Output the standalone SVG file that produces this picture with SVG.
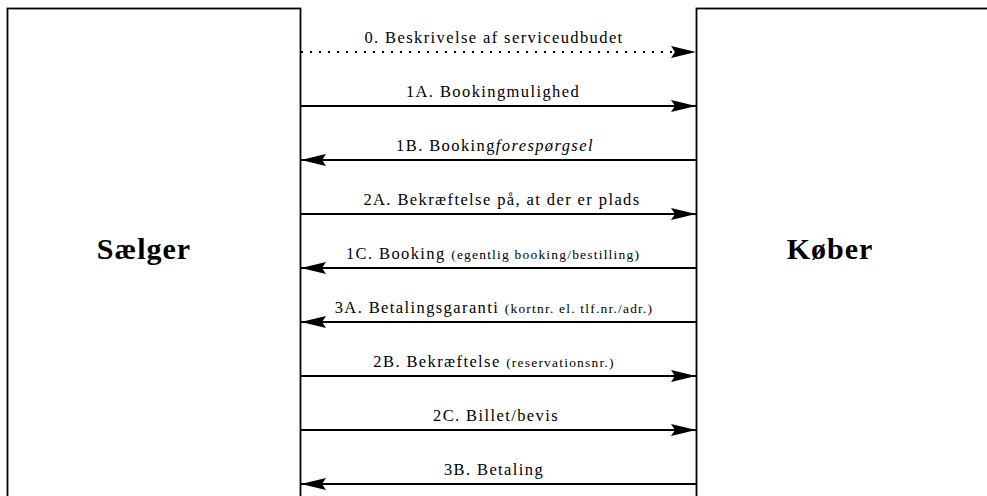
<svg xmlns="http://www.w3.org/2000/svg" width="987" height="496" viewBox="0 0 987 496">
  <style>
    .party { fill: #fff; stroke: #000; stroke-width: 1.8; }
    .name { font-family: "Liberation Serif", "Times New Roman", serif; font-weight: bold; font-size: 30px; letter-spacing: 1px; text-anchor: middle; fill: #000; }
    .msg { stroke: #000; stroke-width: 2; fill: none; }
    .dotted { stroke-dasharray: 2 7; }
    .lbl { font-family: "Liberation Serif", "Times New Roman", serif; font-size: 16.5px; letter-spacing: 1.4px; text-anchor: middle; fill: #000; }
    .small { font-size: 13.5px; letter-spacing: 1.2px; }
    .it { font-style: italic; }
  </style>
  <defs>
    <marker id="head" viewBox="0 0 25 12" refX="25" refY="6" markerWidth="25" markerHeight="12" markerUnits="userSpaceOnUse" orient="auto">
      <path d="M0,0 L25,6 L0,12 L4,6 Z" fill="#000"/>
    </marker>
  </defs>

  <rect fill="#fff" x="0" y="0" width="987" height="496"/>

  <g id="saelger">
    <rect class="party" x="7.5" y="8.5" width="293" height="600"/>
    <text class="name" x="144" y="259">Sælger</text>
  </g>

  <g id="koeber">
    <rect class="party" x="696.5" y="8.5" width="400" height="600"/>
    <text class="name" x="830" y="259">Køber</text>
  </g>

  <g id="connectors">
    <line class="msg dotted" x1="301" y1="52" x2="696" y2="52" marker-end="url(#head)"/>
    <line class="msg" x1="301" y1="106" x2="696" y2="106" marker-end="url(#head)"/>
    <line class="msg" x1="696" y1="160" x2="301" y2="160" marker-end="url(#head)"/>
    <line class="msg" x1="301" y1="214" x2="696" y2="214" marker-end="url(#head)"/>
    <line class="msg" x1="696" y1="268" x2="301" y2="268" marker-end="url(#head)"/>
    <line class="msg" x1="696" y1="322" x2="301" y2="322" marker-end="url(#head)"/>
    <line class="msg" x1="301" y1="376" x2="696" y2="376" marker-end="url(#head)"/>
    <line class="msg" x1="301" y1="430" x2="696" y2="430" marker-end="url(#head)"/>
    <line class="msg" x1="696" y1="484" x2="301" y2="484" marker-end="url(#head)"/>

    <text class="lbl" x="494" y="43">0. Beskrivelse af serviceudbudet</text>
    <text class="lbl" x="493" y="97">1A. Bookingmulighed</text>
    <text class="lbl" x="495" y="151">1B. Booking<tspan class="it">forespørgsel</tspan></text>
    <text class="lbl" x="502" y="205">2A. Bekræftelse på, at der er plads</text>
    <text class="lbl" x="493" y="259">1C. Booking <tspan class="small">(egentlig booking/bestilling)</tspan></text>
    <text class="lbl" x="494" y="313">3A. Betalingsgaranti <tspan class="small">(kortnr. el. tlf.nr./adr.)</tspan></text>
    <text class="lbl" x="494" y="367">2B. Bekræftelse <tspan class="small">(reservationsnr.)</tspan></text>
    <text class="lbl" x="496" y="421">2C. Billet/bevis</text>
    <text class="lbl" x="494" y="475">3B. Betaling</text>
  </g>
</svg>
